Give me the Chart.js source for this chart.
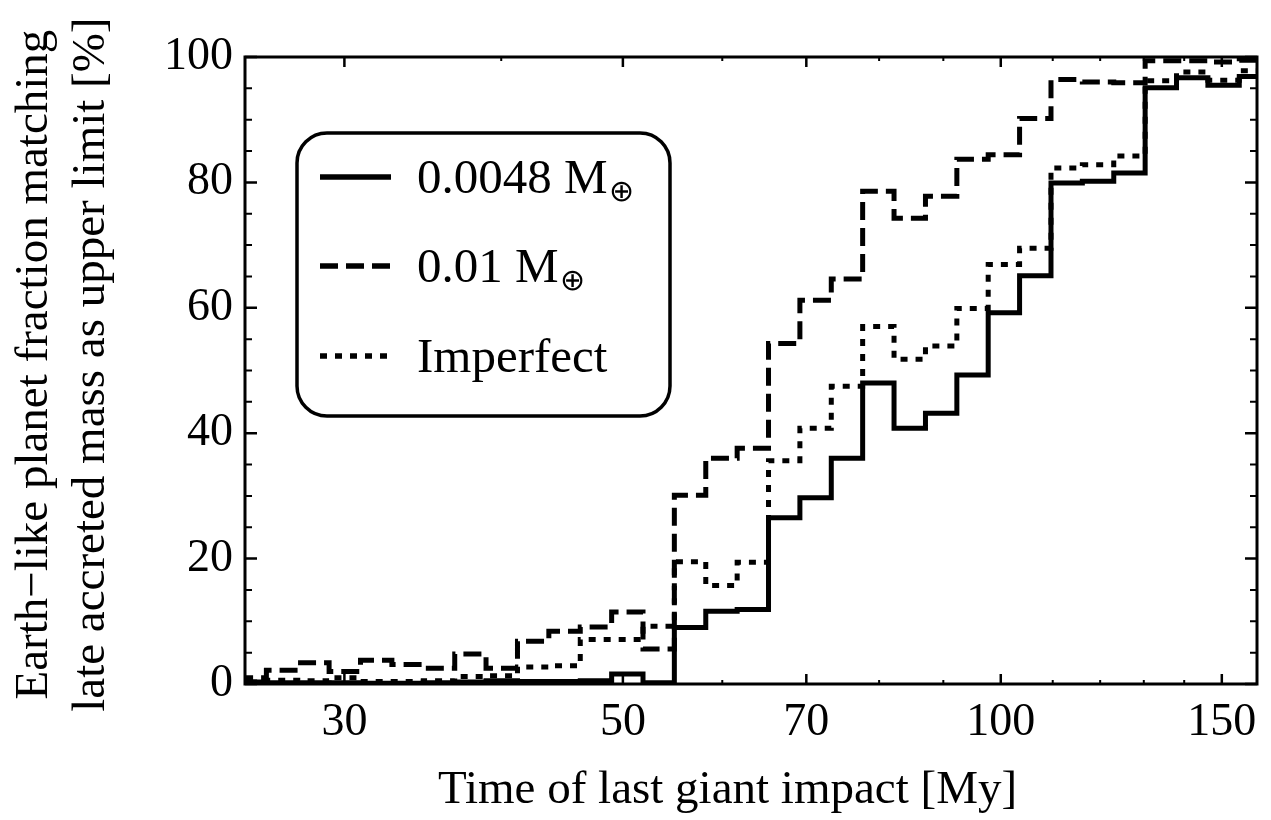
<!DOCTYPE html>
<html lang="en">
<head>
<meta charset="UTF-8">
<title>Late accreted mass histogram</title>
<style>
  body { margin: 0; background: #fff; }
  canvas { display: block; }
</style>
<script src="https://cdn.jsdelivr.net/npm/chart.js"></script>
</head>
<body>
<canvas id="chart" width="1271" height="820"></canvas>
<script>
// bin edges of the histogram (My), log-spaced
const binEdges = [24.55, 26.00, 27.54, 29.17, 30.90, 32.73, 34.67, 36.73, 38.90, 41.21,
  43.65, 46.24, 48.98, 51.88, 54.95, 58.21, 61.66, 65.31, 69.18, 73.28,
  77.62, 82.22, 87.10, 92.26, 97.72, 103.51, 109.65, 116.14, 123.03, 130.32,
  138.04, 146.22, 154.88, 164.06];

// fraction (%) per bin
const solid0048 = [0.3, 0.2, 0.2, 0.2, 0.1, 0.1, 0.2, 0.3, 0.5, 0.4, 0.4, 0.5, 1.6, 0.2,
  9.0, 11.6, 11.9, 26.5, 29.7, 36.0, 48.0, 40.8, 43.2, 49.3, 59.2, 65.1,
  79.9, 80.2, 81.5, 95.1, 96.7, 95.5, 96.9];
const dashed001 = [1.0, 2.2, 3.4, 2.0, 3.8, 3.1, 2.5, 4.8, 2.5, 6.8, 8.4, 9.1, 11.5, 5.6,
  30.1, 36.0, 37.6, 54.3, 61.2, 64.6, 78.6, 74.3, 77.8, 83.7, 84.4, 90.2,
  96.4, 96.0, 95.9, 99.4, 99.4, 99.2, 99.5];
const imperfect = [0.3, 0.6, 0.5, 1.0, 0.4, 0.4, 0.5, 1.2, 1.3, 2.7, 2.9, 7.1, 7.1, 9.2,
  19.5, 15.7, 19.4, 35.6, 40.8, 47.5, 57.0, 51.8, 53.9, 59.9, 66.9, 69.5,
  82.3, 82.8, 84.2, 96.2, 97.6, 96.3, 97.8];

const seriesLabels = ['0.0048 M', '0.01 M', 'Imperfect'];
const seriesSubs = ['\u2295', '\u2295', ''];

const xMajorTicks = [30, 50, 70, 100, 150];
const xMinorTicks = [40, 60, 80, 90, 110, 120, 130, 140];
const yMajorTicks = [0, 20, 40, 60, 80, 100];
const yMinorTicks = [5, 10, 15, 25, 30, 35, 45, 50, 55, 65, 70, 75, 85, 90, 95];

const FONT = "'Liberation Serif', 'Times New Roman', serif";

function toSteps(vals) {
  const pts = vals.map((v, i) => ({ x: binEdges[i], y: v }));
  pts.push({ x: binEdges[vals.length], y: vals[vals.length - 1] });
  return pts;
}

const dashes = [[], [18, 8], [7, 8]];

// frame, inward ticks and the rounded legend box
const framePlugin = {
  id: 'frame',
  afterDraw(chart) {
    const ctx = chart.ctx;
    const a = chart.chartArea;
    const xs = chart.scales.x, ys = chart.scales.y;
    ctx.save();
    ctx.strokeStyle = '#000';
    ctx.lineWidth = 3;
    ctx.strokeRect(a.left, a.top, a.right - a.left, a.bottom - a.top);

    ctx.lineWidth = 2.5;
    ctx.beginPath();
    xMajorTicks.forEach(v => {
      const px = xs.getPixelForValue(v);
      ctx.moveTo(px, a.bottom); ctx.lineTo(px, a.bottom - 10);
      ctx.moveTo(px, a.top); ctx.lineTo(px, a.top + 10);
    });
    yMajorTicks.forEach(v => {
      const py = ys.getPixelForValue(v);
      ctx.moveTo(a.left, py); ctx.lineTo(a.left + 12, py);
      ctx.moveTo(a.right, py); ctx.lineTo(a.right - 12, py);
    });
    ctx.stroke();

    ctx.lineWidth = 2;
    ctx.beginPath();
    xMinorTicks.forEach(v => {
      const px = xs.getPixelForValue(v);
      ctx.moveTo(px, a.bottom); ctx.lineTo(px, a.bottom - 4);
      ctx.moveTo(px, a.top); ctx.lineTo(px, a.top + 4);
    });
    yMinorTicks.forEach(v => {
      const py = ys.getPixelForValue(v);
      ctx.moveTo(a.left, py); ctx.lineTo(a.left + 7, py);
      ctx.moveTo(a.right, py); ctx.lineTo(a.right - 7, py);
    });
    ctx.stroke();

    // legend
    const bx = 297, by = 133, bw = 373, bh = 283, r = 30;
    ctx.lineWidth = 3.5;
    ctx.beginPath();
    ctx.roundRect(bx, by, bw, bh, r);
    ctx.fillStyle = '#fff';
    ctx.fill();
    ctx.stroke();

    const rowY = [177, 266, 356];
    chart.data.datasets.forEach((ds, i) => {
      ctx.lineWidth = 5.5;
      ctx.setLineDash(dashes[i]);
      ctx.lineCap = 'butt';
      ctx.beginPath();
      ctx.moveTo(320, rowY[i]);
      ctx.lineTo(391, rowY[i]);
      ctx.stroke();
      ctx.setLineDash([]);
      ctx.fillStyle = '#000';
      ctx.textBaseline = 'alphabetic';
      ctx.font = '49px ' + FONT;
      ctx.fillText(ds.label, 417, rowY[i] + 16);
      if (seriesSubs[i]) {
        const w = ctx.measureText(ds.label).width;
        ctx.font = '30px ' + FONT;
        ctx.fillText(seriesSubs[i], 417 + w + 1, rowY[i] + 24);
      }
    });
    ctx.restore();
  }
};

new Chart(document.getElementById('chart'), {
  type: 'line',
  data: {
    datasets: [
      { label: seriesLabels[0], data: toSteps(solid0048) },
      { label: seriesLabels[1], data: toSteps(dashed001) },
      { label: seriesLabels[2], data: toSteps(imperfect) }
    ].map((d, i) => Object.assign(d, {
      stepped: true,
      borderColor: '#000',
      borderWidth: 5,
      borderDash: dashes[i],
      borderCapStyle: 'butt',
      pointRadius: 0,
      fill: false
    }))
  },
  options: {
    responsive: false,
    animation: false,
    layout: { padding: { top: 57, right: 14, left: 0, bottom: 0 } },
    plugins: { legend: { display: false }, tooltip: { enabled: false } },
    scales: {
      x: {
        type: 'logarithmic',
        min: 25,
        max: 160,
        grid: { display: false, drawTicks: false },
        border: { display: false },
        afterBuildTicks: s => { s.ticks = xMajorTicks.map(v => ({ value: v })); },
        afterFit: s => { s.height = 136; },
        ticks: {
          autoSkip: false,
          maxRotation: 0,
          padding: 11,
          color: '#000',
          font: { family: FONT, size: 46 },
          callback: v => String(v)
        },
        title: {
          display: true,
          // trailing spaces nudge the centred title left, as in the original
          text: 'Time of last giant impact [My]\u00a0\u00a0\u00a0\u00a0',
          color: '#000',
          font: { family: FONT, size: 47 },
          padding: { top: 0, bottom: 1 }
        }
      },
      y: {
        min: 0,
        max: 100,
        grid: { display: false, drawTicks: false },
        border: { display: false },
        afterBuildTicks: s => { s.ticks = yMajorTicks.map(v => ({ value: v })); },
        afterFit: s => { s.width = 245; },
        ticks: {
          padding: 12,
          color: '#000',
          font: { family: FONT, size: 46 }
        },
        title: {
          display: true,
          text: ['\u00a0Earth\u2212like planet fraction matching', '\u00a0late accreted mass as upper limit [%]'],
          color: '#000',
          font: { family: FONT, size: 47, lineHeight: 1.22 },
          padding: { top: 6, bottom: 0 }
        }
      }
    }
  },
  plugins: [framePlugin]
});
</script>
</body>
</html>
